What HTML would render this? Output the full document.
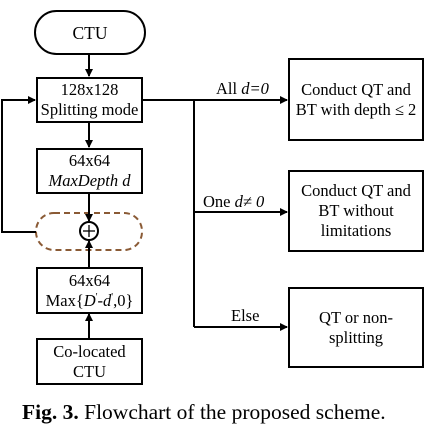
<!DOCTYPE html>
<html><head><meta charset="utf-8"><style>
html,body{margin:0;padding:0;background:#fff;}
body{position:relative;width:448px;height:429px;overflow:hidden;font-family:"Liberation Serif",serif;color:#000;}
svg{position:absolute;left:0;top:0;}
.b{position:absolute;box-sizing:border-box;border:2px solid #000;background:#fff;display:flex;flex-direction:column;align-items:center;justify-content:center;text-align:center;font-size:16.5px;line-height:20px;white-space:nowrap;}
.l{position:absolute;font-size:16.5px;white-space:nowrap;line-height:18px;}
i{font-style:italic;}
sup{font-size:10px;vertical-align:6px;line-height:0;}
</style></head><body>
<svg width="448" height="429">
<defs><marker id="ah" markerWidth="8" markerHeight="8" refX="7" refY="4" orient="auto" markerUnits="userSpaceOnUse"><path d="M0,0 L8,4 L0,8 z" fill="#000"/></marker></defs>
<g stroke="#000" stroke-width="2" fill="none">
<rect x="36" y="213" width="106" height="37" rx="18" stroke="#8a5a35" stroke-dasharray="6,4"/>
<line x1="89" y1="55" x2="89" y2="76" marker-end="url(#ah)"/>
<line x1="89" y1="122" x2="89" y2="147" marker-end="url(#ah)"/>
<line x1="89" y1="193" x2="89" y2="221" marker-end="url(#ah)"/>
<line x1="89" y1="267" x2="89" y2="241" marker-end="url(#ah)"/>
<line x1="89" y1="338" x2="89" y2="314" marker-end="url(#ah)"/>
<polyline points="36,232 2,232 2,100 35,100" marker-end="url(#ah)"/>
<line x1="143" y1="100" x2="287" y2="100" marker-end="url(#ah)"/>
<line x1="194" y1="100" x2="194" y2="327"/>
<line x1="194" y1="212" x2="287" y2="212" marker-end="url(#ah)"/>
<line x1="194" y1="327" x2="287" y2="327" marker-end="url(#ah)"/>
<circle cx="89" cy="231" r="9" fill="#fff"/>
<line x1="83" y1="231" x2="95" y2="231" stroke-width="1.3"/>
<line x1="89" y1="225" x2="89" y2="237" stroke-width="1.3"/>
</g>
</svg>
<div class="b" style="left:34px;top:10px;width:112px;height:45px;border-radius:23px;font-size:17.5px;">CTU</div>
<div class="b" style="left:36px;top:77px;width:107px;height:46px;"><div>128x128</div><div>Splitting mode</div></div>
<div class="b" style="left:36px;top:148px;width:107px;height:46px;"><div>64x64</div><div><i>MaxDepth d</i></div></div>
<div class="b" style="left:36px;top:267px;width:107px;height:47px;"><div>64x64</div><div>Max{<i>D</i><sup>'</sup>-<i>d</i><sup>'</sup>,0}</div></div>
<div class="b" style="left:36px;top:338px;width:107px;height:47px;"><div>Co-located</div><div>CTU</div></div>
<div class="b" style="left:288px;top:58px;width:136px;height:83px;"><div>Conduct QT and</div><div>BT with depth ≤ 2</div></div>
<div class="b" style="left:288px;top:170px;width:136px;height:82px;"><div>Conduct QT and</div><div>BT without</div><div>limitations</div></div>
<div class="b" style="left:288px;top:287px;width:136px;height:81px;"><div>QT or non-</div><div>splitting</div></div>
<div class="l" style="left:216px;top:80px;">All <i>d=0</i></div>
<div class="l" style="left:203px;top:193px;">One <i>d≠ 0</i></div>
<div class="l" style="left:231px;top:307px;">Else</div>
<div class="l" style="left:22px;top:400px;font-size:21.5px;line-height:24px;"><b>Fig. 3.</b> Flowchart of the proposed scheme.</div>
</body></html>
